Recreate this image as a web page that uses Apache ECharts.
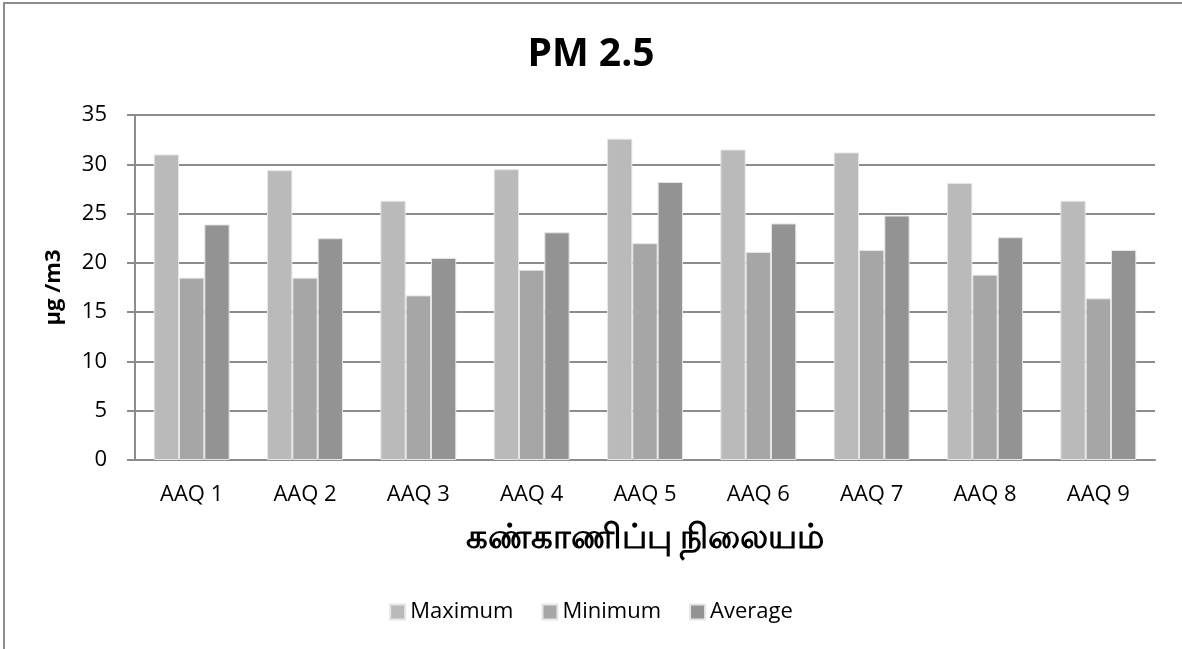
<!DOCTYPE html>
<html>
<head>
<meta charset="utf-8">
<title>PM 2.5</title>
<script src="https://cdn.jsdelivr.net/npm/echarts@6/dist/echarts.min.js"></script>
<style>
  html, body { margin: 0; padding: 0; background: #fff; }
  #chart { width: 1182px; height: 649px; }
</style>
</head>
<body>
<div id="chart"></div>
<script>
// stations and readings (µg/m3)
var stations = ['AAQ 1', 'AAQ 2', 'AAQ 3', 'AAQ 4', 'AAQ 5', 'AAQ 6', 'AAQ 7', 'AAQ 8', 'AAQ 9'];
var maximum = [31.0, 29.4, 26.3, 29.5, 32.6, 31.5, 31.2, 28.1, 26.3];
var minimum = [18.5, 18.5, 16.7, 19.3, 22.0, 21.1, 21.3, 18.8, 16.4];
var average = [23.9, 22.5, 20.5, 23.1, 28.2, 24.0, 24.8, 22.6, 21.3];

var font = '"Open Sans", "Noto Sans", sans-serif';

var chart = echarts.init(document.getElementById('chart'));

function bar(name, data, color) {
  return {
    name: name,
    type: 'bar',
    data: data,
    barGap: '0%',
    barCategoryGap: '33%',
    itemStyle: { color: color, borderColor: '#e6e6e6', borderWidth: 1 }
  };
}

chart.setOption({
  animation: false,
  title: {
    text: 'PM 2.5',
    left: 'center',
    top: 30,
    textStyle: { fontFamily: font, fontSize: 39, fontWeight: 'bold', color: '#000' }
  },
  legend: {
    bottom: 21,
    left: 'center',
    itemWidth: 15,
    itemHeight: 15,
    itemGap: 28,
    icon: 'rect',
    textStyle: { fontFamily: font, fontSize: 22, color: '#000' },
    data: ['Maximum', 'Minimum', 'Average']
  },
  grid: { left: 135, right: 27, top: 115, bottom: 189 },
  xAxis: {
    type: 'category',
    data: stations,
    name: 'கண்காணிப்பு நிலையம்',
    nameLocation: 'middle',
    nameGap: 61,
    nameTextStyle: { fontFamily: font, fontSize: 34, fontWeight: 'bold', color: '#000' },
    axisLine: { lineStyle: { color: '#8c8c8c', width: 2 } },
    axisTick: { show: false },
    axisLabel: { fontFamily: font, fontSize: 22, color: '#000', margin: 24 }
  },
  yAxis: {
    type: 'value',
    min: 0,
    max: 35,
    interval: 5,
    name: 'µg /m3',
    nameLocation: 'middle',
    nameRotate: 90,
    nameGap: 70,
    nameTextStyle: { fontFamily: font, fontSize: 22, fontWeight: 'bold', color: '#000' },
    axisLine: { show: true, lineStyle: { color: '#8c8c8c', width: 2 } },
    axisTick: { show: true, length: 8, inside: false, lineStyle: { color: '#8c8c8c', width: 2 } },
    axisLabel: { fontFamily: font, fontSize: 22, color: '#000', margin: 28 },
    splitLine: { lineStyle: { color: '#8c8c8c', width: 2 } }
  },
  graphic: [{
    type: 'rect',
    shape: { x: 4, y: 3, width: 1180, height: 650 },
    style: { fill: 'none', stroke: '#8c8c8c', lineWidth: 2 },
    silent: true
  }],
  series: [
    bar('Maximum', maximum, '#bababa'),
    bar('Minimum', minimum, '#a6a6a6'),
    bar('Average', average, '#939393')
  ]
});
</script>
</body>
</html>
